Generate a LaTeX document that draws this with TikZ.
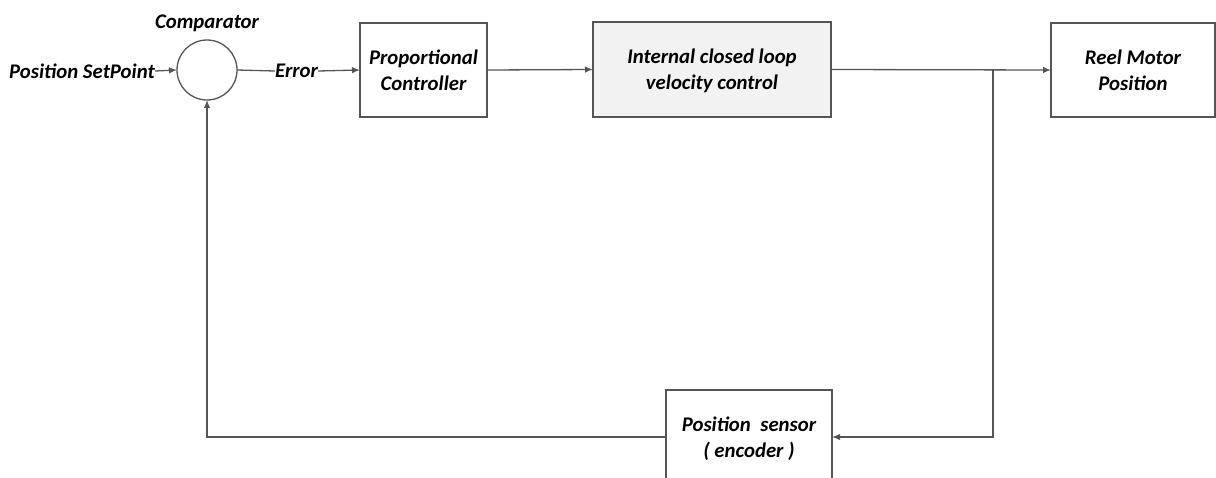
\documentclass[tikz,border=0pt]{standalone}
\usepackage{fontspec}
\setmainfont{Carlito}
\usetikzlibrary{arrows.meta}
\definecolor{ln}{HTML}{555555}
\definecolor{fillg}{HTML}{F2F2F2}
\newcommand{\lowertext}[1]{\raisebox{-2pt}[\height][\depth]{\begin{tabular}{@{}c@{}}#1\end{tabular}}}
\begin{document}
\begin{tikzpicture}[x=1pt,y=-1pt,
  lbl/.style={font=\fontsize{20.8}{26}\selectfont\bfseries\itshape, text=black, align=center, inner sep=0pt},
  blk/.style={lbl, draw=ln, line width=1.3pt, fill=white, outer sep=0pt},
  conn/.style={draw=ln, line width=1.3pt},
  arr/.style={conn, -{Latex[length=8pt,width=6.5pt]}}]
\useasboundingbox (0,0) rectangle (1216,477);
\clip (0,0) rectangle (1216,477);
\node[circle, draw=ln, line width=1.3pt, minimum size=60pt, inner sep=0pt, outer sep=0pt] (cmp) at (207,70) {};
\node[lbl] (cmplbl) at (207,23) {Comparator};
\node[lbl, anchor=east] (sp) at (155,71) {Position SetPoint};
\node[lbl] (err) at (296.5,71) {Error};
\node[blk, minimum width=127pt, minimum height=94pt] (pc) at (423.5,70) {\lowertext{Proportional\\Controller}};
\node[blk, fill=fillg, minimum width=238pt, minimum height=95pt] (ic) at (712,69.5) {\lowertext{Internal closed loop\\velocity control}};
\node[blk, minimum width=164pt, minimum height=94pt] (rm) at (1133,70) {\lowertext{Reel Motor\\Position}};
\node[blk, minimum width=166pt, minimum height=94pt] (sen) at (749,437) {\lowertext{Position\ \ sensor\\( encoder )}};
\coordinate (br) at (993,70);
\draw[arr] (sp.east) -- (cmp.west);
\draw[conn] (cmp.east) -- (err.west);
\draw[arr] (err.east) -- (pc.west);
\draw[arr] (pc.east) -- (ic.west);
\draw[arr] (ic.east) -- (rm.west);
\draw[arr] (br) |- (sen.east);
\draw[arr] (sen.west) -| (cmp.south);
\end{tikzpicture}
\end{document}
